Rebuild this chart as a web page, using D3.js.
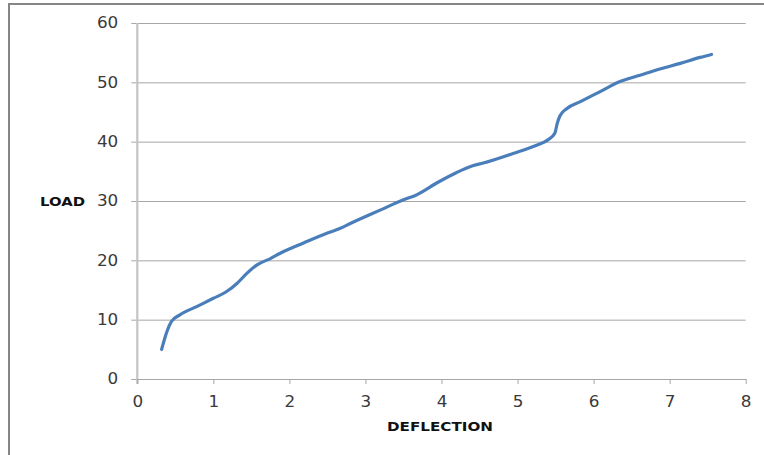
<!DOCTYPE html>
<html>
<head>
<meta charset="utf-8">
<script src="https://cdn.jsdelivr.net/npm/d3@7"></script>
<style>
    body { margin: 0; background: #fff; }
    svg { display: block; }
</style>
</head>
<body>
<svg id="chart" width="764" height="455"></svg>
<script>
// Load / deflection curve
const deflection = [0.32, 0.39, 0.45, 0.56, 0.78, 1.0, 1.17, 1.31, 1.44, 1.57,
    1.75, 1.88, 2.2, 2.5, 2.67, 2.8, 3.2, 3.5, 3.65, 3.96,
    4.2, 4.4, 4.55, 4.94, 5.25, 5.40, 5.49, 5.52, 5.56, 5.65,
    5.82, 6.08, 6.34, 6.61, 6.87, 7.14, 7.40, 7.55];
const load = [5.0, 8.0, 9.7, 10.8, 12.2, 13.6, 14.7, 16.1, 17.8, 19.2,
    20.3, 21.2, 23.0, 24.6, 25.4, 26.2, 28.5, 30.2, 30.9, 33.2,
    34.8, 35.9, 36.4, 38.0, 39.4, 40.3, 41.4, 43.0, 44.4, 45.6,
    46.7, 48.4, 50.1, 51.2, 52.25, 53.2, 54.2, 54.7];
const xTicks = [0, 1, 2, 3, 4, 5, 6, 7, 8];
const yTicks = [0, 10, 20, 30, 40, 50, 60];

const svg = d3.select("#chart");
const font = "'DejaVu Sans', Verdana, sans-serif";

// outer frame (only top and left edges show in the picture)
svg.append("path")
    .attr("d", "M9,455V4H764")
    .attr("fill", "none")
    .attr("stroke", "#868686")
    .attr("stroke-width", 2);

const margin = { left: 137.3, right: 18.3, top: 23, bottom: 76 };
const x = d3.scaleLinear().domain([0, 8]).range([margin.left, 764 - margin.right]);
const y = d3.scaleLinear().domain([0, 60]).range([455 - margin.bottom, margin.top]);

// horizontal gridlines + y labels
const yAxis = svg.append("g")
    .attr("transform", `translate(${x(0)},0)`)
    .call(d3.axisLeft(y).tickValues(yTicks).tickSize(-(x(8) - x(0))).tickSizeOuter(0).tickPadding(17));
yAxis.select(".domain").remove();
yAxis.selectAll(".tick line")
    .attr("x1", -6)
    .attr("stroke", "#a6a6a6");
yAxis.selectAll(".tick text")
    .attr("fill", "#3a3a3a")
    .attr("transform", "scale(1.12,1)")
    .style("font-family", font)
    .style("font-size", "15px");

// y axis line
svg.append("line")
    .attr("x1", x(0)).attr("x2", x(0))
    .attr("y1", y(60)).attr("y2", y(0) + 5)
    .attr("stroke", "#c4c4c4")
    .attr("stroke-width", 2.2);

// x axis
const xAxis = svg.append("g")
    .attr("transform", `translate(0,${y(0)})`)
    .call(d3.axisBottom(x).tickValues(xTicks).tickSize(5).tickSizeOuter(0).tickPadding(12));
xAxis.select(".domain").attr("stroke", "#a6a6a6");
xAxis.selectAll(".tick line").attr("stroke", "#a6a6a6");
xAxis.selectAll(".tick text")
    .attr("fill", "#3a3a3a")
    .attr("transform", "scale(1.12,1)")
    .style("font-family", font)
    .style("font-size", "15px");

// the curve
const pts = deflection.map((d, i) => [d, load[i]]);
svg.append("path")
    .datum(pts)
    .attr("fill", "none")
    .attr("stroke", "#4a7ebb")
    .attr("stroke-width", 3.2)
    .attr("stroke-linecap", "round")
    .attr("stroke-linejoin", "round")
    .attr("d", d3.line().x(d => x(d[0])).y(d => y(d[1])).curve(d3.curveMonotoneX));

// axis titles
svg.append("text")
    .attr("x", 40).attr("y", 206)
    .attr("textLength", 45).attr("lengthAdjust", "spacingAndGlyphs")
    .attr("fill", "#111")
    .style("font-family", font)
    .style("font-weight", "bold")
    .style("font-size", "12.5px")
    .text("LOAD");

svg.append("text")
    .attr("x", 387).attr("y", 431)
    .attr("textLength", 106).attr("lengthAdjust", "spacingAndGlyphs")
    .attr("fill", "#111")
    .style("font-family", font)
    .style("font-weight", "bold")
    .style("font-size", "13px")
    .text("DEFLECTION");
</script>
</body>
</html>
